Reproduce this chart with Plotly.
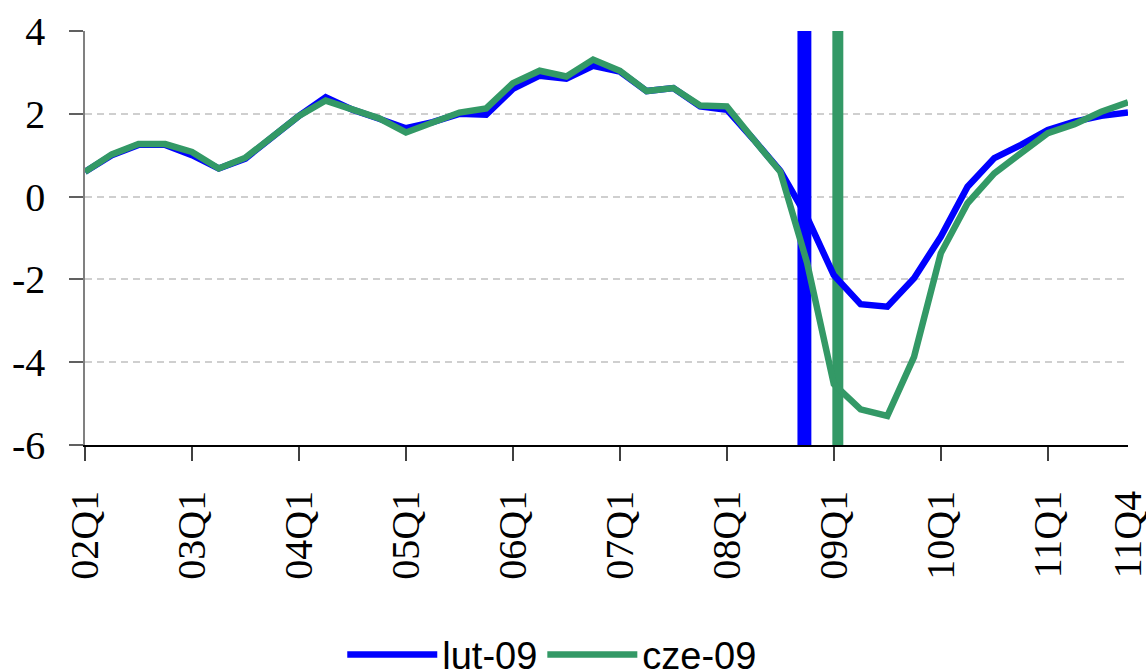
import plotly.graph_objects as go

quarters = [f"{y:02d}Q{q}" for y in range(2, 12) for q in range(1, 5)]

lut_09 = [0.60, 1.00, 1.25, 1.25, 1.00, 0.68, 0.92, 1.45, 1.95, 2.40,
          2.10, 1.88, 1.65, 1.80, 2.00, 1.98, 2.60, 2.92, 2.85, 3.16,
          3.02, 2.55, 2.62, 2.18, 2.10, 1.38, 0.62, -0.50, -1.90, -2.60,
          -2.66, -1.97, -0.97, 0.24, 0.93, 1.25, 1.61, 1.81, 1.95, 2.03]

cze_09 = [0.60, 1.02, 1.27, 1.27, 1.08, 0.68, 0.94, 1.45, 1.95, 2.32,
          2.12, 1.89, 1.55, 1.80, 2.03, 2.13, 2.74, 3.04, 2.90, 3.31,
          3.04, 2.55, 2.62, 2.20, 2.18, 1.38, 0.60, -1.60, -4.53, -5.14,
          -5.30, -3.87, -1.37, -0.16, 0.56, 1.05, 1.53, 1.75, 2.05, 2.28]

# forecast cut-off markers (position in quarter index units)
cutoff_names = ["lut-09", "cze-09"]
cutoff_pos = [26.9, 28.15]
cutoff_width = [0.52, 0.41]
cutoff_bottom = -6
cutoff_top = 4.17

tick_labels = ["02Q1", "03Q1", "04Q1", "05Q1", "06Q1", "07Q1", "08Q1",
               "09Q1", "10Q1", "11Q1", "11Q4"]

colors = {"lut-09": "#0000FF", "cze-09": "#339966"}
SERIF = "'Liberation Serif', 'Times New Roman', 'DejaVu Serif', serif"
SANS = "'Liberation Sans', Arial, sans-serif"

x_idx = list(range(len(quarters)))
label_pos = [quarters.index(t) for t in tick_labels]
tick_marks = [quarters.index(t) for t in tick_labels if t.endswith("Q1")]

fig = go.Figure()

for name, pos, w in zip(cutoff_names, cutoff_pos, cutoff_width):
    fig.add_trace(go.Bar(
        x=[pos], y=[cutoff_top - cutoff_bottom], base=[cutoff_bottom],
        width=[w], marker=dict(color=colors[name], line=dict(width=0)),
        showlegend=False, hoverinfo="skip", cliponaxis=False))

fig.add_trace(go.Scatter(x=x_idx, y=lut_09, mode="lines", name="lut-09",
                         line=dict(color=colors["lut-09"], width=6.5)))
fig.add_trace(go.Scatter(x=x_idx, y=cze_09, mode="lines", name="cze-09",
                         line=dict(color=colors["cze-09"], width=6.5)))

fig.update_layout(
    width=1146, height=671,
    margin=dict(l=85, r=18, t=31, b=226, autoexpand=False),
    paper_bgcolor="white", plot_bgcolor="white",
    barmode="overlay",
    font=dict(family=SERIF, size=40, color="black"),
    showlegend=True,
    legend=dict(orientation="h", x=0.448, xanchor="center",
                yref="container", y=0.024, yanchor="middle",
                font=dict(family=SANS, size=38),
                itemwidth=90, bgcolor="rgba(0,0,0,0)"),
    xaxis=dict(
        range=[0, 39], showgrid=False, zeroline=False, automargin=False,
        showline=True, linecolor="black", linewidth=1.5,
        tickmode="array", tickvals=label_pos, ticktext=tick_labels,
        tickangle=-90, ticks="", ticklabelstandoff=28,
        ticklabeloverflow="allow",
        tickfont=dict(family=SERIF, size=40),
        minor=dict(tickmode="array", tickvals=tick_marks, ticks="outside",
                   ticklen=14, tickcolor="#404040", tickwidth=1.5,
                   showgrid=False),
    ),
    yaxis=dict(
        range=[-6, 4], showgrid=False, zeroline=False, automargin=False,
        showline=True, linecolor="#808080", linewidth=1.5,
        tickmode="array", tickvals=[-6, -4, -2, 0, 2, 4],
        ticktext=["-6", "-4", "-2", "0", "2", "4"],
        ticks="outside", ticklen=14, tickcolor="#606060", tickwidth=1.5,
        ticklabelstandoff=16, ticklabeloverflow="allow",
        tickfont=dict(family=SERIF, size=40),
        minor=dict(tickmode="array", tickvals=[-4, -2, 0, 2], ticks="",
                   showgrid=True, gridcolor="#CFCFCF", gridwidth=1.5,
                   griddash="7px,5px"),
    ),
)

fig.write_html("out.html", config={"displayModeBar": False},
               post_script="document.body.style.margin='0';")
